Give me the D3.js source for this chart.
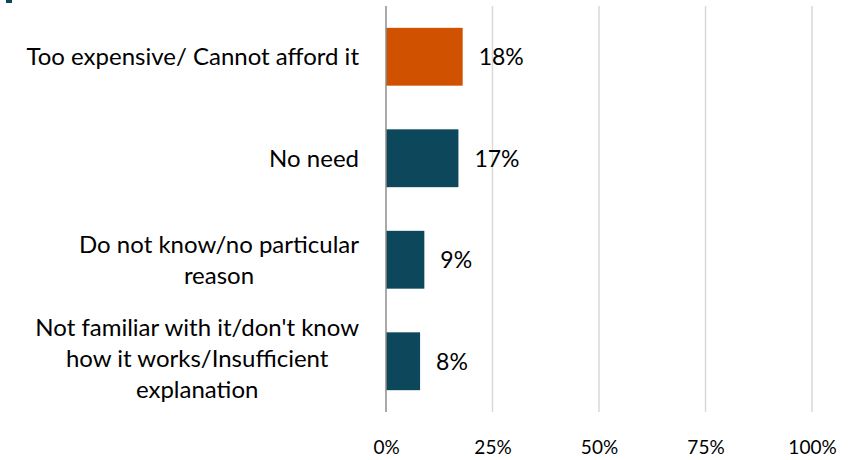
<!DOCTYPE html>
<html><head><meta charset="utf-8">
<script src="https://cdn.jsdelivr.net/npm/d3@7"></script>
<style>body{margin:0;background:#fff}svg{display:block}text{font-family:Lato,"Open Sans",sans-serif;fill:#000}</style>
</head><body><div id="chart"></div>
<script>
const categories = [
  ["Too expensive/ Cannot afford it"],
  ["No need"],
  ["Do not know/no particular", "reason"],
  ["Not familiar with it/don't know", "how it works/Insufficient", "explanation"]
];
const values = [18, 17, 9, 8];
const highlight = [true, false, false, false];
const tickValues = [0, 25, 50, 75, 100];

const W = 853, H = 460;
const svg = d3.select("#chart").append("svg").attr("width", W).attr("height", H);
const x = d3.scaleLinear().domain([0, 100]).range([386, 812]);
const y = d3.scaleBand().domain(d3.range(categories.length)).range([6, 412]).paddingInner(0.43).paddingOuter(0.215);

// gridlines
svg.append("g").selectAll("line").data(tickValues.slice(1)).join("line")
  .attr("x1", d => x(d)).attr("x2", d => x(d)).attr("y1", 6).attr("y2", 412)
  .attr("stroke", "#d9d9d9").attr("stroke-width", 1.5);

// bars
svg.append("g").selectAll("rect").data(values).join("rect")
  .attr("x", x(0)).attr("y", (d, i) => y(i))
  .attr("width", d => x(d) - x(0)).attr("height", y.bandwidth())
  .attr("fill", (d, i) => highlight[i] ? "#D05200" : "#0D475B");

// axis line
svg.append("line").attr("x1", x(0)).attr("x2", x(0)).attr("y1", 6).attr("y2", 412)
  .attr("stroke", "#8c8c8c").attr("stroke-width", 1.5);

// value labels
svg.append("g").selectAll("text").data(values).join("text")
  .attr("x", d => x(d) + 16).attr("y", (d, i) => y(i) + y.bandwidth() / 2)
  .attr("dy", "0.36em").style("font-size", "23px").text(d => d + "%");

// category labels (wrapped lines centred within block, block right-aligned)
const lh = 31, rightEdge = 359;
svg.append("g").selectAll("text").data(categories).join("text")
  .attr("text-anchor", "middle").style("font-size", "24px")
  .each(function(lines, i) {
    const cy = y(i) + y.bandwidth() / 2 - (i === 3 ? 3 : 0);
    const t = d3.select(this);
    const spans = lines.map((l, k) => t.append("tspan")
        .attr("y", cy + (k - (lines.length - 1) / 2) * lh)
        .attr("dy", "0.36em").text(l));
    const maxW = d3.max(spans, s => s.node().getComputedTextLength());
    spans.forEach(s => s.attr("x", rightEdge - maxW / 2));
  });

// x axis tick labels
const xAxis = d3.axisBottom(x).tickValues(tickValues).tickFormat(d => d + "%").tickSize(0).tickPadding(0);
const gx = svg.append("g").attr("transform", "translate(0,440)").call(xAxis);
gx.select(".domain").remove();
gx.selectAll("text").style("font-size", "19px").style("font-family", "Lato, sans-serif").attr("fill", "#000").attr("dy", "0.71em");

// cut-off title fragment at top left
svg.append("rect").attr("x", 6).attr("y", 0).attr("width", 6).attr("height", 3).attr("fill", "#0D475B");
</script></body></html>
